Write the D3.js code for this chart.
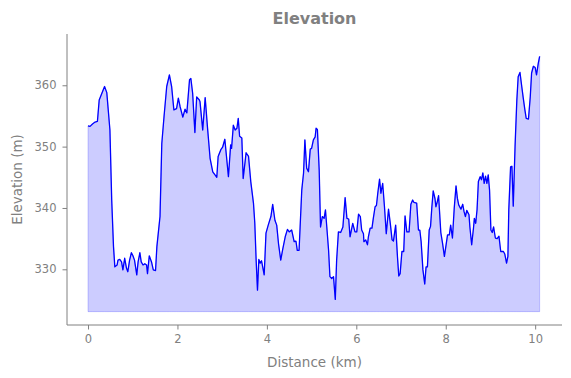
<!DOCTYPE html>
<html><head><meta charset="utf-8">
<script src="https://cdn.jsdelivr.net/npm/d3@7"></script>
<style>body{margin:0;background:#fff}svg{display:block}text{font-family:"DejaVu Sans",sans-serif;fill:#808080}</style>
</head><body><svg id="c" width="571" height="378"></svg>
<script>
const distanceKm = [0.00,0.045,0.10,0.157,0.21,0.25,0.31,0.37,0.42,0.49,0.53,0.57,0.60,0.65,0.67,0.71,0.75,0.78,0.82,0.86,0.89,0.93,0.97,1.00,1.04,1.09,1.12,1.16,1.19,1.23,1.27,1.31,1.33,1.37,1.42,1.46,1.51,1.54,1.61,1.65,1.70,1.76,1.82,1.87,1.92,1.98,2.02,2.06,2.12,2.17,2.21,2.27,2.30,2.34,2.39,2.43,2.49,2.505,2.565,2.62,2.67,2.73,2.79,2.84,2.88,2.91,2.97,3.01,3.06,3.14,3.19,3.21,3.25,3.29,3.33,3.36,3.39,3.44,3.47,3.535,3.59,3.64,3.70,3.73,3.76,3.79,3.82,3.85,3.88,3.94,3.98,4.03,4.09,4.13,4.18,4.22,4.26,4.31,4.355,4.41,4.46,4.50,4.555,4.61,4.65,4.68,4.72,4.78,4.82,4.85,4.89,4.93,4.97,5.00,5.04,5.08,5.10,5.13,5.17,5.20,5.24,5.28,5.31,5.34,5.38,5.41,5.45,5.49,5.53,5.56,5.60,5.65,5.70,5.75,5.79,5.83,5.86,5.92,5.97,6.01,6.05,6.09,6.12,6.16,6.17,6.21,6.25,6.27,6.31,6.35,6.38,6.42,6.45,6.48,6.52,6.55,6.59,6.63,6.67,6.72,6.76,6.80,6.83,6.88,6.92,6.95,6.98,7.02,7.06,7.09,7.13,7.18,7.22,7.26,7.29,7.35,7.39,7.42,7.45,7.49,7.53,7.56,7.59,7.63,7.66,7.69,7.72,7.76,7.78,7.81,7.84,7.89,7.93,7.97,8.01,8.04,8.08,8.11,8.15,8.19,8.23,8.26,8.29,8.34,8.38,8.41,8.44,8.47,8.52,8.54,8.58,8.62,8.64,8.67,8.70,8.73,8.77,8.80,8.83,8.86,8.89,8.92,8.95,8.98,9.01,9.04,9.07,9.11,9.15,9.19,9.23,9.29,9.32,9.36,9.39,9.41,9.45,9.48,9.51,9.55,9.59,9.62,9.66,9.70,9.73,9.77,9.80,9.85,9.89,9.92,9.96,10.00,10.03,10.07,10.10];
const elevationM = [353.4,353.3,353.7,354.0,354.1,357.6,358.7,359.8,358.8,352.7,341.3,333.7,330.4,330.7,331.5,331.6,331.2,329.9,331.8,330.2,329.6,331.5,332.7,332.3,331.5,329.1,331.2,332.7,331.2,330.7,330.9,330.7,329.3,332.2,331.2,329.9,329.8,333.7,338.6,350.5,354.9,359.8,361.7,359.8,356.0,356.2,357.9,356.5,354.8,356.1,355.5,360.9,361.1,358.7,352.3,358.1,357.6,357.3,352.7,358.0,353.3,348.1,345.9,345.4,345.0,348.4,349.5,349.9,351.2,345.1,350.3,349.7,353.5,352.7,353.0,354.6,351.7,351.4,344.8,349.0,348.4,344.3,340.8,337.5,331.5,326.6,331.6,331.0,331.4,329.1,335.9,337.2,338.6,340.6,338.0,337.2,334.2,331.5,333.3,335.3,336.5,336.1,336.4,334.5,334.6,333.1,333.1,342.9,345.7,351.1,346.5,345.9,349.6,349.7,351.1,351.6,353.0,352.8,346.2,336.9,338.6,338.3,339.7,336.9,333.1,328.8,328.5,328.8,325.1,331.5,336.1,336.0,336.9,341.7,338.3,338.2,335.3,337.5,336.1,336.1,339.0,338.6,336.4,335.8,334.5,334.8,334.0,335.3,336.7,336.7,338.3,340.2,340.4,342.4,344.7,342.4,344.0,340.2,335.8,339.8,337.5,334.8,334.6,337.2,332.1,328.9,329.3,332.9,332.9,338.7,336.1,336.1,340.6,341.3,340.9,340.8,336.4,336.4,334.5,329.9,327.6,330.4,330.4,336.4,337.0,340.2,342.8,341.5,340.2,341.0,342.0,336.0,334.2,332.1,334.1,335.6,335.6,337.2,335.1,340.0,343.6,341.6,340.5,339.8,340.6,339.4,338.6,339.6,338.9,336.9,334.0,336.7,338.3,337.5,339.7,344.3,345.1,344.6,345.7,344.0,345.2,344.0,345.4,342.9,336.4,336.0,336.9,335.1,335.0,335.4,332.9,332.9,332.5,331.0,332.1,339.7,346.7,346.8,340.3,350.0,357.6,361.4,362.1,359.8,358.1,356.0,354.6,354.5,358.1,362.0,363.1,362.9,361.7,363.6,364.7];
const xTicks = [0,2,4,6,8,10];
const yTicks = [330,340,350,360];
const fillBase = 323.1;
const titleText = "Elevation", xLabel = "Distance (km)", yLabel = "Elevation (m)";

const data = distanceKm.map((d,i)=>({x:d,y:elevationM[i]}));
const svg = d3.select("#c");
const L=67,R=562,T=34,B=325;
const x = d3.scaleLinear().domain([-0.47,10.6]).range([L,R]);
const y = d3.scaleLinear().domain([320.92,368.36]).range([B,T]);

const area = d3.area().x(d=>x(d.x)).y0(y(fillBase)).y1(d=>y(d.y));
svg.append("path").datum(data).attr("d",area)
  .attr("fill","rgba(0,0,255,0.2)").attr("stroke","rgba(0,0,255,0.2)").attr("stroke-width",1);
const line = d3.line().x(d=>x(d.x)).y(d=>y(d.y));
svg.append("path").datum(data).attr("d",line)
  .attr("fill","none").attr("stroke","#0000ff").attr("stroke-width",1.3).attr("stroke-linejoin","round");

const gx = svg.append("g").attr("transform",`translate(0,${B})`)
  .call(d3.axisBottom(x).tickValues(xTicks).tickSize(4.5).tickPadding(5).tickSizeOuter(0));
const gy = svg.append("g").attr("transform",`translate(${L},0)`)
  .call(d3.axisLeft(y).tickValues(yTicks).tickSize(4.5).tickPadding(6).tickSizeOuter(0));
[gx,gy].forEach(g=>{
  g.select(".domain").attr("stroke","#808080").attr("stroke-width",1);
  g.selectAll(".tick line").attr("stroke","#808080");
  g.selectAll(".tick text").attr("fill","#808080").style("font-size","11.5px").style("font-family","DejaVu Sans");
});
gx.select(".domain").attr("d",`M${L},0H${R}`);
gy.select(".domain").attr("d",`M0,${T}V${B}`);

svg.append("text").attr("x",(L+R)/2).attr("y",24).attr("text-anchor","middle")
  .style("font-size","16px").style("font-weight","bold").text(titleText);
svg.append("text").attr("x",(L+R)/2).attr("y",367).attr("text-anchor","middle")
  .style("font-size","13.5px").text(xLabel);
svg.append("text").attr("transform",`translate(22,${(T+B)/2}) rotate(-90)`).attr("text-anchor","middle")
  .style("font-size","13.5px").text(yLabel);
</script></body></html>
